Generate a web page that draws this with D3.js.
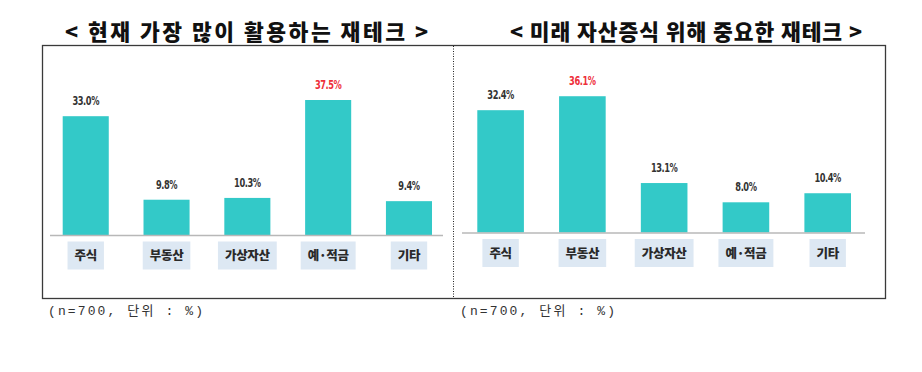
<!DOCTYPE html>
<html>
<head>
<meta charset="utf-8">
<script src="https://cdn.jsdelivr.net/npm/d3@7"></script>
<style>
  body { margin: 0; background: #fff; }
  svg { display: block; }
</style>
</head>
<body>
<div id="viz"></div>
<script>

var categories = ["주식", "부동산", "가상자산", "예·적금", "기타"];
var currentValues = [33.0, 9.8, 10.3, 37.5, 9.4];
var futureValues = [32.4, 36.1, 13.1, 8.0, 10.4];
var titles = ["< 현재 가장 많이 활용하는 재테크 >", "< 미래 자산증식 위해 중요한 재테크 >"];
var footnote = "(n=700, 단위 : %)";

var width = 922, height = 372;

var svg = d3.select('#viz')
	.append('svg')
		.attr('width', width)
		.attr('height', height);

// outer frame + dotted divider
svg.append('rect')
	.attr('x', 42.5).attr('y', 45.5)
	.attr('width', 843).attr('height', 253)
	.style('fill', 'none')
	.style('stroke', '#3a3a3a')
	.style('stroke-width', 1.3);

svg.append('line')
	.attr('x1', 453.5).attr('x2', 453.5)
	.attr('y1', 46).attr('y2', 298)
	.style('stroke', '#222')
	.style('stroke-dasharray', '1,1.5');

var panels = [
	{ values: currentValues, title: titles[0], titleX: 246.5, titleW: 363,
	  bars: [62.7, 432], base: 235, top40: 91, axis: [50, 443], note: 48 },
	{ values: futureValues, title: titles[1], titleX: 686, titleW: 352,
	  bars: [477.3, 851], base: 232.5, top40: 81.5, axis: [462, 865], note: 460 }
];

panels.forEach(function(p) {
	var g = svg.append('g');

	var x = d3.scaleBand()
		.domain(categories)
		.range(p.bars)
		.paddingInner(0.43)
		.paddingOuter(0);

	var y = d3.scaleLinear()
		.domain([0, 40])
		.range([p.base, p.top40]);

	var maxV = d3.max(p.values);

	g.append('text')
		.attr('x', p.titleX)
		.attr('y', 40)
		.attr('text-anchor', 'middle')
		.attr('textLength', p.titleW)
		.attr('lengthAdjust', 'spacing')
		.style('font-family', '"Noto Sans CJK KR", sans-serif')
		.style('font-weight', 900)
		.style('font-size', '21.5px')
		.style('fill', '#111')
		.text(p.title);

	g.selectAll('rect.bar')
		.data(p.values)
		.enter().append('rect')
		.attr('class', 'bar')
		.attr('x', function(d, i) { return x(categories[i]); })
		.attr('y', function(d) { return y(d); })
		.attr('width', x.bandwidth())
		.attr('height', function(d) { return y(0) - y(d); })
		.style('fill', '#33c9c8');

	// value labels, squeezed to look like the condensed original font
	g.selectAll('text.val')
		.data(p.values)
		.enter().append('text')
		.attr('class', 'val')
		.attr('transform', function(d, i) {
			return 'translate(' + (x(categories[i]) + x.bandwidth() / 2) + ',' + (y(d) - 11) + ') scale(0.72,1)';
		})
		.attr('text-anchor', 'middle')
		.style('font-family', '"DejaVu Sans", sans-serif')
		.style('font-weight', 'bold')
		.style('font-size', '11.5px')
		.style('letter-spacing', '-0.6px')
		.style('fill', function(d) { return d === maxV ? '#ee2f3a' : '#333'; })
		.text(function(d) { return d.toFixed(1) + '%'; });

	g.append('line')
		.attr('x1', p.axis[0]).attr('x2', p.axis[1])
		.attr('y1', p.base + 0.5).attr('y2', p.base + 0.5)
		.style('stroke', '#b8b8b8')
		.style('stroke-width', 1.5);

	var cat = g.selectAll('g.cat')
		.data(categories)
		.enter().append('g')
		.attr('class', 'cat')
		.attr('transform', function(d) {
			return 'translate(' + (x(d) + x.bandwidth() / 2) + ',' + (p.base + 20.5) + ')';
		});

	var boxes = cat.append('rect')
		.style('fill', '#dde8f3');

	var labels = cat.append('text')
		.attr('text-anchor', 'middle')
		.attr('dy', '0.36em')
		.style('font-family', '"Noto Sans CJK KR", sans-serif')
		.style('font-weight', 900)
		.style('font-size', '12.5px')
		.style('letter-spacing', '-0.3px')
		.style('fill', '#2a2a2a')
		.text(function(d) { return d; });

	labels.each(function(d, i) {
		var w = this.getComputedTextLength() + 14;
		d3.select(boxes.nodes()[i])
			.attr('x', -w / 2).attr('y', -14)
			.attr('width', w).attr('height', 28);
	});

	g.append('text')
		.attr('x', p.note)
		.attr('y', 315)
		.attr('textLength', 155)
		.attr('lengthAdjust', 'spacing')
		.style('font-family', '"Liberation Mono", "Noto Sans CJK KR", monospace')
		.style('font-size', '13px')
		.style('fill', '#333')
		.text(footnote);
});

</script>
</body>
</html>
